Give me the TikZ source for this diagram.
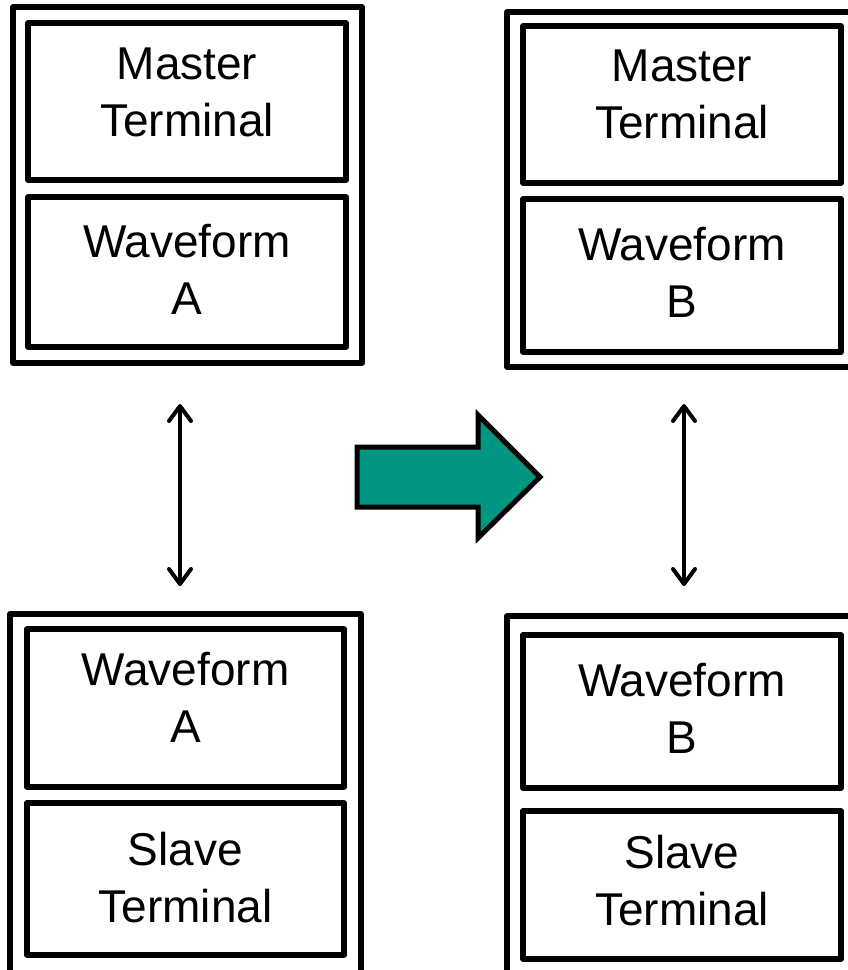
\documentclass[tikz,border=0pt]{standalone}
\usepackage{fontspec}
\setmainfont{Liberation Sans}
\usetikzlibrary{arrows.meta}
\definecolor{teal1}{RGB}{0,150,130}
\tikzset{
  outerbox/.style={draw=black, line width=5.5pt, rectangle, inner sep=0pt, line join=round},
  innerbox/.style={draw=black, line width=5.5pt, rectangle, inner sep=0pt, line join=round},
  lbl/.style={font=\fontsize{46}{57}\selectfont, align=center, inner sep=0pt, anchor=base},
  link/.style={line width=4pt, {Straight Barb[length=15pt,width=22pt,round]}-{Straight Barb[length=15pt,width=22pt,round]}},
  bigarrow/.style={draw=black, line width=5pt, fill=teal1, line join=miter}
}
\begin{document}
\begin{tikzpicture}[x=1pt,y=-1pt]
\useasboundingbox (0,0) rectangle (848,970);
\clip (0,0) rectangle (848,970);
\fill[white] (0,0) rectangle (848,970);
% top left
\node (tlo) [outerbox, minimum width=349pt, minimum height=356pt] at (187.5,185) {};
\node (tl1) [innerbox, minimum width=318pt, minimum height=157pt] at (187,101.5) {};
\node (tl2) [innerbox, minimum width=318pt, minimum height=150pt] at (187,272) {};
\node (tl1t) [lbl] at (187,136) {Master\\Terminal};
\node (tl2t) [lbl] at (187,314) {Waveform\\A};
% top right
\node (tro) [outerbox, minimum width=350pt, minimum height=355pt] at (682,189.5) {};
\node (tr1) [innerbox, minimum width=318pt, minimum height=157pt] at (682,104.5) {};
\node (tr2) [innerbox, minimum width=318pt, minimum height=153pt] at (682,275.5) {};
\node (tr1t) [lbl] at (682,138) {Master\\Terminal};
\node (tr2t) [lbl] at (682,317) {Waveform\\B};
% bottom left
\node (blo) [outerbox, minimum width=351pt, minimum height=371pt] at (185.5,799.5) {};
\node (bl1) [innerbox, minimum width=317pt, minimum height=158pt] at (185.5,708) {};
\node (bl2) [innerbox, minimum width=317pt, minimum height=152pt] at (185.5,879) {};
\node (bl1t) [lbl] at (185.5,742) {Waveform\\A};
\node (bl2t) [lbl] at (185.5,922) {Slave\\Terminal};
% bottom right
\node (bro) [outerbox, minimum width=350pt, minimum height=369pt] at (682,800.5) {};
\node (br1) [innerbox, minimum width=318pt, minimum height=153pt] at (682,711.5) {};
\node (br2) [innerbox, minimum width=318pt, minimum height=148pt] at (682,885) {};
\node (br1t) [lbl] at (682,753) {Waveform\\B};
\node (br2t) [lbl] at (682,925) {Slave\\Terminal};
% links
\coordinate (la) at (180,404);
\coordinate (lb) at (180,586);
\coordinate (ra) at (684,404);
\coordinate (rb) at (684,586);
\draw[link] (la) -- (lb);
\draw[link] (ra) -- (rb);
% big arrow
\draw[bigarrow] (357,447) -- (478,447) -- (478,415) -- (540,477) -- (478,538) -- (478,507) -- (357,507) -- cycle;
\end{tikzpicture}
\end{document}
